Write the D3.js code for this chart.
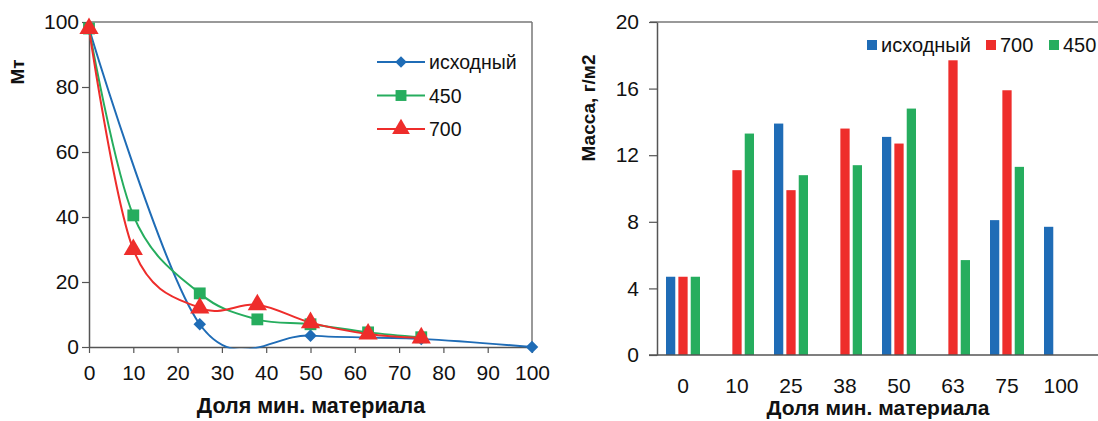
<!DOCTYPE html>
<html><head><meta charset="utf-8">
<script src="https://cdn.jsdelivr.net/npm/d3@7"></script>
<style>
html,body{margin:0;padding:0;background:#fff;}
svg{display:block;font-family:"Liberation Sans",Arial,sans-serif;}
</style></head>
<body>
<svg id="c" width="1098" height="421"></svg>
<script>
// ---- Left chart data (Мт vs Доля мин. материала) ----
const seriesNamesLeft = ["исходный", "450", "700"];
const lineInitialX = [0, 25, 50, 75, 100];
const lineInitialY = [98, 7, 3.5, 2.5, 0];
const line450X = [0, 10, 25, 38, 50, 63, 75];
const line450Y = [98, 40.5, 16.5, 8.5, 7, 4.5, 3];
const line700X = [0, 10, 25, 38, 50, 63, 75];
const line700Y = [98, 30, 12, 13, 7.5, 4, 2.8];
const leftXTicks = [0,10,20,30,40,50,60,70,80,90,100];
const leftYTicks = [0,20,40,60,80,100];

// ---- Right chart data (Масса, г/м2) ----
const barCategories = ["0","10","25","38","50","63","75","100"];
const barSeries = ["исходный","700","450"];
const barInitial = [4.7, null, 13.9, null, 13.1, null, 8.1, 7.7];
const bar700 =     [4.7, 11.1, 9.9, 13.6, 12.7, 17.7, 15.9, null];
const bar450 =     [4.7, 13.3, 10.8, 11.4, 14.8, 5.7, 11.3, null];
const rightYTicks = [0,4,8,12,16,20];

const BLUE = "#1f6cb6", RED = "#ee2d2b", GREEN = "#26ad5e";
const AXIS = "#555";
const TICKFONT = 21;

const svg = d3.select("#c");

// ================= LEFT CHART =================
const lx = d3.scaleLinear().domain([0,100]).range([89,532]);
const ly = d3.scaleLinear().domain([0,100]).range([347,22]);

svg.append("defs").append("clipPath").attr("id","lclip")
  .append("rect").attr("x",80).attr("y",10).attr("width",460).attr("height",338.5);

// frame top/right
svg.append("line").attr("x1",89).attr("x2",532).attr("y1",22).attr("y2",22).attr("stroke","#777").attr("stroke-width",1.5);
svg.append("line").attr("x1",532).attr("x2",532).attr("y1",22).attr("y2",347).attr("stroke","#777").attr("stroke-width",1.5);

const lxAxis = svg.append("g").attr("transform","translate(0,347)")
  .call(d3.axisBottom(lx).tickValues(leftXTicks).tickSize(6).tickPadding(12).tickSizeOuter(0));
const lyAxis = svg.append("g").attr("transform","translate(89,0)")
  .call(d3.axisLeft(ly).tickValues(leftYTicks).tickSize(7).tickPadding(3).tickSizeOuter(0));
[lxAxis, lyAxis].forEach(a=>{
  a.select(".domain").attr("stroke",AXIS).attr("stroke-width",1.5);
  a.selectAll(".tick line").attr("stroke",AXIS).attr("stroke-width",1.2);
  a.selectAll("text").attr("font-size",TICKFONT).attr("fill","#111").attr("font-family","Liberation Sans, Arial, sans-serif");
});

const curve = d3.curveCatmullRom.alpha(0);
const lineGen = d3.line().x(d=>lx(d[0])).y(d=>ly(d[1])).curve(curve);
const leftSeries = [
  {name:"исходный", xs:lineInitialX, ys:lineInitialY, color:BLUE, sym:d3.symbolDiamond2, size:100},
  {name:"450", xs:line450X, ys:line450Y, color:GREEN, sym:d3.symbolSquare, size:140},
  {name:"700", xs:line700X, ys:line700Y, color:RED, sym:d3.symbolTriangle, size:160}
];
leftSeries.forEach(s=>{
  const pts = s.xs.map((x,i)=>[x, s.ys[i]]);
  svg.append("path").datum(pts).attr("d",lineGen).attr("fill","none")
    .attr("stroke",s.color).attr("stroke-width",2).attr("clip-path","url(#lclip)");
});
leftSeries.forEach(s=>{
  const pts = s.xs.map((x,i)=>[x, s.ys[i]]);
  svg.append("g").selectAll("path").data(pts).join("path")
    .attr("d", d3.symbol().type(s.sym).size(s.size))
    .attr("transform", d=>`translate(${lx(d[0])},${ly(d[1])})`)
    .attr("fill", s.color);
});
// legend
leftSeries.forEach((s,i)=>{
  const yy = 62 + i*33.5;
  svg.append("line").attr("x1",377).attr("x2",425).attr("y1",yy).attr("y2",yy).attr("stroke",s.color).attr("stroke-width",2);
  svg.append("path").attr("d",d3.symbol().type(s.sym).size(s.size*0.85)).attr("transform",`translate(401,${yy})`).attr("fill",s.color);
  svg.append("text").attr("x",429).attr("y",yy+7).attr("font-size",19.5).attr("fill","#111").text(s.name);
});
// titles
svg.append("text").attr("x",311).attr("y",413).attr("text-anchor","middle").attr("font-size",21.5).attr("font-weight","bold").attr("fill","#111").text("Доля мин. материала");
svg.append("text").attr("transform","translate(24,72) rotate(-90)").attr("text-anchor","middle").attr("font-size",19).attr("font-weight","bold").attr("fill","#111").text("Мт");

// ================= RIGHT CHART =================
const rx = d3.scaleBand().domain(barCategories).range([656,1088]).padding(0);
const rx1 = d3.scaleBand().domain(barSeries).range([10,44]).paddingInner(0.25);
const ry = d3.scaleLinear().domain([0,20]).range([355,22]);

svg.append("line").attr("x1",650).attr("x2",1098).attr("y1",22).attr("y2",22).attr("stroke","#777").attr("stroke-width",1.5);

const barData = [];
const seriesVals = {"исходный":barInitial, "700":bar700, "450":bar450};
const seriesColor = {"исходный":BLUE, "700":RED, "450":GREEN};
barCategories.forEach((c,i)=>{
  barSeries.forEach(s=>{
    const v = seriesVals[s][i];
    if (v!=null) barData.push({c, s, v});
  });
});
svg.append("g").selectAll("rect").data(barData).join("rect")
  .attr("x", d=>rx(d.c)+rx1(d.s))
  .attr("width", rx1.bandwidth())
  .attr("y", d=>ry(d.v))
  .attr("height", d=>ry(0)-ry(d.v))
  .attr("fill", d=>seriesColor[d.s]);

const ryAxis = svg.append("g").attr("transform","translate(657,0)")
  .call(d3.axisLeft(ry).tickValues(rightYTicks).tickSize(8).tickPadding(10).tickSizeOuter(0));
ryAxis.select(".domain").attr("stroke",AXIS).attr("stroke-width",1.5);
ryAxis.selectAll(".tick line").attr("stroke",AXIS).attr("stroke-width",1.2);
ryAxis.selectAll("text").attr("font-size",TICKFONT).attr("fill","#111").attr("font-family","Liberation Sans, Arial, sans-serif");

const rxAxis = svg.append("g").attr("transform","translate(0,355)")
  .call(d3.axisBottom(rx).tickSize(0).tickPadding(23).tickSizeOuter(0));
rxAxis.select(".domain").remove();
rxAxis.selectAll("text").attr("font-size",TICKFONT).attr("fill","#111").attr("font-family","Liberation Sans, Arial, sans-serif");
svg.append("line").attr("x1",649).attr("x2",1098).attr("y1",355).attr("y2",355).attr("stroke",AXIS).attr("stroke-width",1.5);

// legend
const legItems = [
  {name:"исходный", color:BLUE, x:867},
  {name:"700", color:RED, x:986},
  {name:"450", color:GREEN, x:1049}
];
legItems.forEach(l=>{
  svg.append("rect").attr("x",l.x).attr("y",40).attr("width",10).attr("height",10).attr("fill",l.color);
  svg.append("text").attr("x",l.x+14).attr("y",52).attr("font-size",20).attr("fill","#111").text(l.name);
});

svg.append("text").attr("x",878).attr("y",415).attr("text-anchor","middle").attr("font-size",21).attr("font-weight","bold").attr("fill","#111").text("Доля мин. материала");
svg.append("text").attr("transform","translate(595,108) rotate(-90)").attr("text-anchor","middle").attr("font-size",19).attr("font-weight","bold").attr("fill","#111").text("Масса, г/м2");
</script>
</body></html>
